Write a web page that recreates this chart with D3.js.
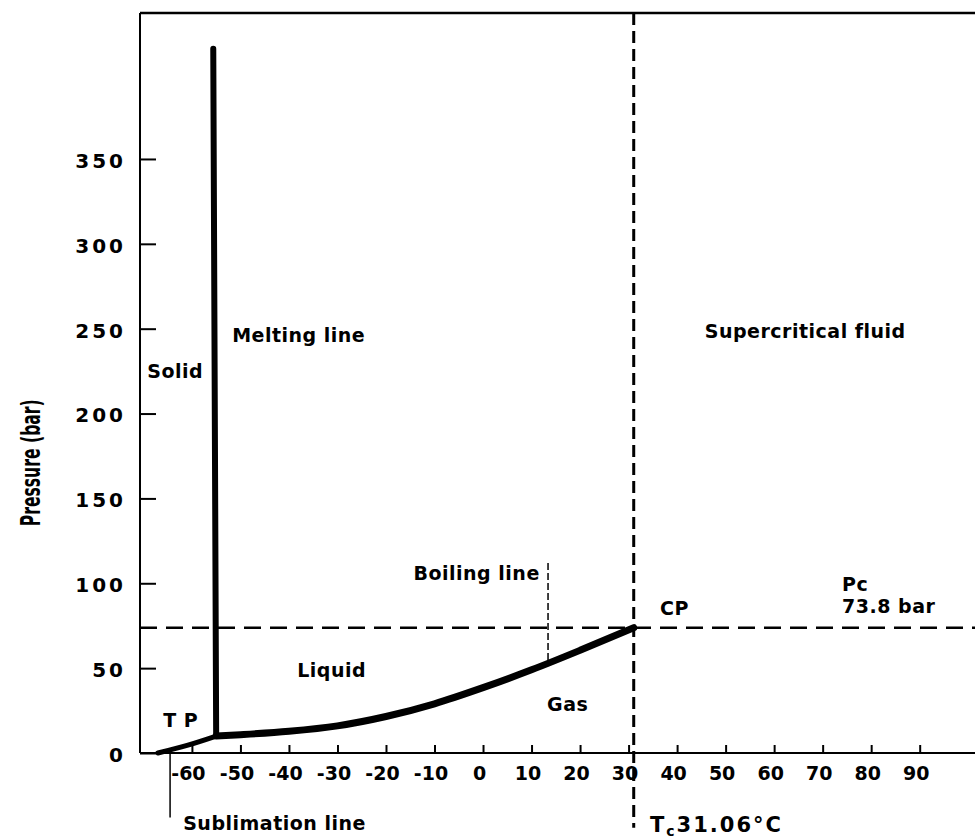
<!DOCTYPE html>
<html lang="en">
<head>
<meta charset="UTF-8">
<title>CO2 phase diagram</title>
<script src="https://cdn.jsdelivr.net/npm/d3@7"></script>
<style>
    body { margin: 0; background: #fff; }
    svg { display: block; }
    .lbl {
        font-family: "DejaVu Sans", sans-serif;
        font-weight: bold;
        font-size: 19px;
        letter-spacing: 0.5px;
        fill: #000;
    }
    .big { font-size: 19px; }
</style>
</head>
<body>
<script>
    // phase boundaries (T in °C, P in bar)
    var sublimationLine = [[-67, 0], [-61, 4.5], [-55, 10]];
    var meltingLine = [[-55, 10], [-55.6, 415]];
    var boilingLine = [[-55, 10], [-50, 10.8], [-40, 12.8], [-30, 16], [-20, 21.5],
                       [-10, 29], [0, 38.5], [10, 49], [20, 60.5], [31.06, 73.8]];
    var criticalT = 31.06;
    var criticalP = 73.8;

    var tempTicks = [-60, -50, -40, -30, -20, -10, 0, 10, 20, 30, 40, 50, 60, 70, 80, 90];
    var pressureTicks = [0, 50, 100, 150, 200, 250, 300, 350];

    // region names, anchored in data units
    var regionLabels = [
        {text: "Solid", t: -69.2, p: 221},
        {text: "Melting line", t: -51.7, p: 242},
        {text: "Supercritical fluid", t: 45.7, p: 244.5},
        {text: "Liquid", t: -38.3, p: 44.8},
        {text: "Gas", t: 13.2, p: 24.7},
        {text: "T P", t: -65.9, p: 15.3},
        {text: "CP", t: 36.5, p: 81.3},
        {text: "Sublimation line", t: -61.8, p: -45.4}
    ];
    var boilingLabel = {text: "Boiling line", t: 11.7, p: 102, markT: 13.4, markTop: 112, markBottom: 52};
    var pcLabels = [
        {text: "Pc", t: 74, p: 95.5},
        {text: "73.8 bar", t: 74, p: 82.5}
    ];
    var sublimationMark = {t: -64.5, bottom: -38};

    var width = 975, height = 840;
    var margin = {top: 13, right: 0, bottom: 87, left: 140};

    var x = d3.scaleLinear()
        .domain([-70.7, 101.4])
        .range([margin.left, width - margin.right]);
    var y = d3.scaleLinear()
        .domain([0, 436])
        .range([height - margin.bottom, margin.top]);

    var svg = d3.select("body").append("svg")
        .attr("width", width)
        .attr("height", height);

    // frame: top edge, left axis, bottom axis
    var x0 = x.range()[0], x1 = x.range()[1];
    var yTop = y.range()[1], yBot = y.range()[0];
    svg.append("line").attr("x1", x0).attr("x2", x1).attr("y1", yTop).attr("y2", yTop)
        .attr("stroke", "#000").attr("stroke-width", 2.5);
    svg.append("line").attr("x1", x0).attr("x2", x0).attr("y1", yTop).attr("y2", yBot)
        .attr("stroke", "#000").attr("stroke-width", 2);
    svg.append("line").attr("x1", x0).attr("x2", x1).attr("y1", yBot).attr("y2", yBot)
        .attr("stroke", "#000").attr("stroke-width", 2);

    // axes with inward ticks
    var xAxis = d3.axisBottom(x)
        .tickValues(tempTicks)
        .tickSizeInner(-8)
        .tickSizeOuter(0)
        .tickPadding(14)
        .tickFormat(function(d) { return String(d); });
    svg.append("g")
        .attr("transform", "translate(0," + y(0) + ")")
        .call(xAxis)
        .call(function(g) { g.select(".domain").remove(); })
        .call(function(g) { g.selectAll(".tick line").attr("stroke", "#000").attr("stroke-width", 2); })
        .call(function(g) {
            g.selectAll(".tick text")
                .attr("class", "lbl")
                .attr("dx", -4)
                .style("font-size", "19px")
                .style("letter-spacing", "0px");
        });

    var yAxis = d3.axisLeft(y)
        .tickValues(pressureTicks)
        .tickSizeInner(-16)
        .tickSizeOuter(0)
        .tickPadding(14)
        .tickFormat(function(d) { return String(d); });
    svg.append("g")
        .attr("transform", "translate(" + x0 + ",0)")
        .call(yAxis)
        .call(function(g) { g.select(".domain").remove(); })
        .call(function(g) { g.selectAll(".tick line").attr("stroke", "#000").attr("stroke-width", 2); })
        .call(function(g) {
            g.selectAll(".tick text")
                .attr("class", "lbl")
                .attr("dy", "0.42em")
                .style("font-size", "20px")
                .style("letter-spacing", "3px");
        });

    svg.append("text")
        .attr("transform", "translate(40," + y(171) + ") rotate(-90)")
        .attr("text-anchor", "middle")
        .attr("textLength", 127)
        .attr("lengthAdjust", "spacingAndGlyphs")
        .style("font-family", "'DejaVu Sans Condensed', 'DejaVu Sans', sans-serif")
        .style("font-stretch", "condensed")
        .style("font-weight", "bold")
        .style("font-size", "27px")
        .text("Pressure (bar)");

    // critical pressure / temperature guides
    svg.append("line")
        .attr("x1", x0).attr("x2", x1)
        .attr("y1", y(criticalP)).attr("y2", y(criticalP))
        .attr("stroke", "#000").attr("stroke-width", 2.5)
        .attr("stroke-dasharray", "17,9");
    svg.append("line")
        .attr("x1", x(criticalT)).attr("x2", x(criticalT))
        .attr("y1", yTop).attr("y2", y(-44))
        .attr("stroke", "#000").attr("stroke-width", 3)
        .attr("stroke-dasharray", "12,6");

    // pointer lines for the boiling and sublimation labels
    svg.append("line")
        .attr("x1", x(boilingLabel.markT)).attr("x2", x(boilingLabel.markT))
        .attr("y1", y(boilingLabel.markTop)).attr("y2", y(boilingLabel.markBottom))
        .attr("stroke", "#000").attr("stroke-width", 1.5)
        .attr("stroke-dasharray", "7,3");
    svg.append("line")
        .attr("x1", x(sublimationMark.t)).attr("x2", x(sublimationMark.t))
        .attr("y1", y(0)).attr("y2", y(sublimationMark.bottom))
        .attr("stroke", "#000").attr("stroke-width", 1.5);

    // phase boundaries
    var line = d3.line()
        .x(function(d) { return x(d[0]); })
        .y(function(d) { return y(d[1]); })
        .curve(d3.curveMonotoneX);
    svg.append("path").datum(sublimationLine)
        .attr("d", line)
        .attr("fill", "none").attr("stroke", "#000").attr("stroke-width", 5)
        .attr("stroke-linecap", "round");
    svg.append("path").datum(meltingLine)
        .attr("d", d3.line().x(function(d) { return x(d[0]); }).y(function(d) { return y(d[1]); }))
        .attr("fill", "none").attr("stroke", "#000").attr("stroke-width", 6)
        .attr("stroke-linecap", "round");
    svg.append("path").datum(boilingLine)
        .attr("d", line)
        .attr("fill", "none").attr("stroke", "#000").attr("stroke-width", 7)
        .attr("stroke-linecap", "round");

    // labels
    svg.selectAll(".region")
        .data(regionLabels)
        .enter()
        .append("text")
        .attr("class", "lbl region")
        .attr("x", function(d) { return x(d.t); })
        .attr("y", function(d) { return y(d.p); })
        .text(function(d) { return d.text; });

    svg.append("text")
        .attr("class", "lbl")
        .attr("text-anchor", "end")
        .attr("x", x(boilingLabel.t))
        .attr("y", y(boilingLabel.p))
        .text(boilingLabel.text);

    svg.selectAll(".pc")
        .data(pcLabels)
        .enter()
        .append("text")
        .attr("class", "lbl big pc")
        .attr("x", function(d) { return x(d.t); })
        .attr("y", function(d) { return y(d.p); })
        .text(function(d) { return d.text; });

    var tc = svg.append("text")
        .attr("class", "lbl")
        .attr("x", x(34.4))
        .attr("y", y(-46.5))
        .style("font-size", "21px")
        .style("letter-spacing", "2px");
    tc.append("tspan").text("T");
    tc.append("tspan").attr("dy", 4).style("font-size", "14px").text("c");
    tc.append("tspan").attr("dy", -4).text(criticalT + "°C");
</script>
</body>
</html>
